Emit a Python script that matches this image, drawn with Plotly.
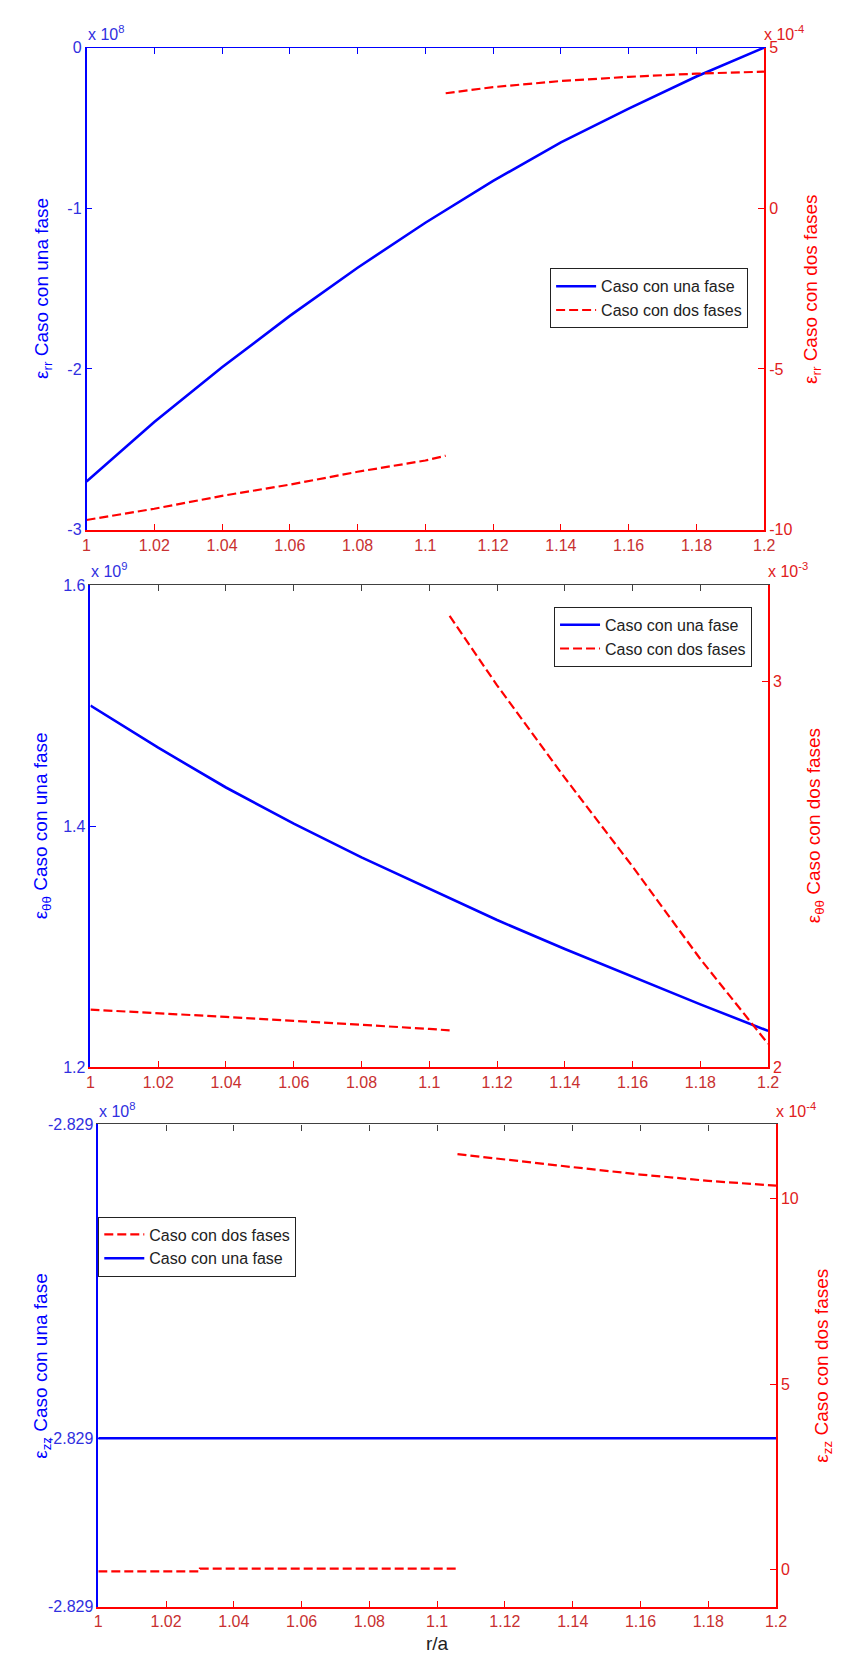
import plotly.graph_objects as go

# ---------------- data ----------------
x_one = [1.00, 1.02, 1.04, 1.06, 1.08, 1.10, 1.12, 1.14, 1.16, 1.18, 1.20]

# panel 1 : eps_rr
rr_one = [-2.70, -2.33, -1.99, -1.67, -1.37, -1.09, -0.83, -0.59, -0.38, -0.18, 0.00]  # x1e8
rr_two_x = [1.00, 1.02, 1.04, 1.06, 1.08, 1.10, 1.106, None, 1.106, 1.12, 1.14, 1.16, 1.18, 1.20]
rr_two = [-9.70, -9.35, -8.95, -8.60, -8.20, -7.85, -7.70, None, 3.58, 3.77, 3.96, 4.09, 4.19, 4.25]  # x1e-4

# panel 2 : eps_thetatheta
tt_one = [1.500, 1.465, 1.432, 1.402, 1.374, 1.348, 1.322, 1.298, 1.275, 1.252, 1.230]  # x1e9
tt_two_x = [1.00, 1.02, 1.04, 1.06, 1.08, 1.10, 1.106, None, 1.106, 1.12, 1.14, 1.16, 1.18, 1.20]
tt_two = [2.149, 2.140, 2.130, 2.120, 2.110, 2.099, 2.095, None, 3.17, 2.99, 2.75, 2.52, 2.28, 2.06]  # x1e-3

# panel 3 : eps_zz
zz_one = [-2.829, -2.829, -2.829, -2.829, -2.829, -2.829, -2.829, -2.829, -2.829, -2.829, -2.829]  # x1e8
zz_two_x = [1.00, 1.03, 1.03, 1.06, 1.08, 1.106, None, 1.106, 1.12, 1.14, 1.16, 1.18, 1.20]
zz_two = [-0.05, -0.05, 0.02, 0.02, 0.02, 0.02, None, 11.20, 11.05, 10.85, 10.65, 10.48, 10.35]  # x1e-4

x_ticks = [1.00, 1.02, 1.04, 1.06, 1.08, 1.10, 1.12, 1.14, 1.16, 1.18, 1.20]
x_ticktext = ["1", "1.02", "1.04", "1.06", "1.08", "1.1", "1.12", "1.14", "1.16", "1.18", "1.2"]

# ---------------- layout helpers ----------------
W, H = 843, 1664
FONT = "Liberation Sans, Arial, Helvetica, sans-serif"
BLUE = "#0000ff"
RED = "#ff0000"
BLUE_TXT = "#3030e0"
RED_TXT = "#e02020"
XLBL = "#c83030"
TICK = 16


def px(v):
    return v / W


def py(v):
    return 1 - v / H


panels = [
    # (left, right, top, bottom)
    (84, 774, 40, 527),
    (88, 778, 583, 1070),
    (96, 786, 1128, 1615),
]

fig = go.Figure()

DASH = "9px,4px"
fig.add_trace(go.Scatter(x=x_one, y=rr_one, mode="lines", name="Caso con una fase",
                         line=dict(color=BLUE, width=2.6), xaxis="x", yaxis="y", legend="legend"))
fig.add_trace(go.Scatter(x=rr_two_x, y=rr_two, mode="lines", name="Caso con dos fases",
                         line=dict(color=RED, width=2.2, dash=DASH), xaxis="x", yaxis="y2",
                         legend="legend"))

fig.add_trace(go.Scatter(x=x_one, y=tt_one, mode="lines", name="Caso con una fase",
                         line=dict(color=BLUE, width=2.6), xaxis="x3", yaxis="y3", legend="legend2"))
fig.add_trace(go.Scatter(x=tt_two_x, y=tt_two, mode="lines", name="Caso con dos fases",
                         line=dict(color=RED, width=2.2, dash=DASH), xaxis="x3", yaxis="y4",
                         legend="legend2"))

fig.add_trace(go.Scatter(x=zz_two_x, y=zz_two, mode="lines", name="Caso con dos fases",
                         line=dict(color=RED, width=2.2, dash=DASH), xaxis="x5", yaxis="y6",
                         legend="legend3", legendrank=1))
fig.add_trace(go.Scatter(x=x_one, y=zz_one, mode="lines", name="Caso con una fase",
                         line=dict(color=BLUE, width=2.6), xaxis="x5", yaxis="y5", legend="legend3",
                         legendrank=2))

# empty traces so the top axes get drawn
for xa, ya in (("x2", "y"), ("x4", "y3"), ("x6", "y5")):
    fig.add_trace(go.Scatter(x=[], y=[], xaxis=xa, yaxis=ya, showlegend=False, hoverinfo="skip"))

layout = dict(
    width=W, height=H,
    margin=dict(l=0, r=0, t=0, b=0),
    paper_bgcolor="white", plot_bgcolor="white",
    font=dict(family=FONT, size=TICK, color="#222"),
    showlegend=True,
)

zz_lo = -2.829 - 0.349e-5
zz_hi = -2.829 + 0.651e-5

yspecs = [
    dict(lrange=[-3, 0], lticks=[-3, -2, -1, 0], ltext=["-3", "-2", "-1", "0"],
         rrange=[-10, 5], rticks=[-10, -5, 0, 5], rtext=["-10", "-5", "0", "5"], topcol=BLUE),
    dict(lrange=[1.2, 1.6], lticks=[1.2, 1.4, 1.6], ltext=["1.2", "1.4", "1.6"],
         rrange=[2, 3.25], rticks=[2, 3], rtext=["2", "3"], topcol="#404040"),
    dict(lrange=[zz_lo, zz_hi], lticks=[zz_lo, -2.829, zz_hi], ltext=["-2.829", "-2.829", "-2.829"],
         rrange=[-1, 12], rticks=[0, 5, 10], rtext=["0", "5", "10"], topcol="#404040"),
]

for i, ((l, r, t, b), ys) in enumerate(zip(panels, yspecs)):
    n = 2 * i + 1
    xb = "xaxis" if n == 1 else f"xaxis{n}"
    xt = f"xaxis{n + 1}"
    yl = "yaxis" if n == 1 else f"yaxis{n}"
    yr = f"yaxis{n + 1}"
    xref = "x" if n == 1 else f"x{n}"
    yref = "y" if n == 1 else f"y{n}"
    xdom = [px(l), px(r)]
    ydom = [py(b), py(t)]
    layout[xb] = dict(domain=xdom, anchor=yref, range=[1, 1.2], tickvals=x_ticks, ticktext=x_ticktext,
                      ticks="inside", ticklen=6, tickcolor=RED, showline=True, linecolor=RED,
                      linewidth=1.5, showgrid=False, zeroline=False,
                      tickfont=dict(family=FONT, size=TICK, color=XLBL))
    layout[xt] = dict(domain=xdom, anchor=yref, overlaying=xref, side="top", range=[1, 1.2],
                      tickvals=x_ticks, ticks="inside", ticklen=6, tickcolor=ys["topcol"],
                      showline=True, linecolor=ys["topcol"], linewidth=1.2, showgrid=False,
                      zeroline=False, showticklabels=False)
    layout[yl] = dict(domain=ydom, anchor=xref, range=ys["lrange"], tickvals=ys["lticks"],
                      ticktext=ys["ltext"], ticks="inside", ticklen=6, tickcolor=BLUE,
                      showline=True, linecolor=BLUE, linewidth=1.5, showgrid=False, zeroline=False,
                      tickfont=dict(family=FONT, size=TICK, color=BLUE_TXT))
    layout[yr] = dict(domain=ydom, anchor=xref, overlaying=yref, side="right", range=ys["rrange"],
                      tickvals=ys["rticks"], ticktext=ys["rtext"], ticks="inside", ticklen=6,
                      tickcolor=RED, showline=True, linecolor=RED, linewidth=1.5, showgrid=False,
                      zeroline=False, tickfont=dict(family=FONT, size=TICK, color=RED_TXT))

leg_common = dict(bgcolor="white", bordercolor="#222", borderwidth=1,
                  font=dict(family=FONT, size=16, color="#222"),
                  xanchor="left", yanchor="top", tracegroupgap=0, itemwidth=40)
layout["legend"] = dict(leg_common, x=px(556), y=py(263))
layout["legend2"] = dict(leg_common, x=px(560), y=py(605))
layout["legend3"] = dict(leg_common, x=px(96), y=py(1221), traceorder="normal")

fig.update_layout(**layout)

ann = []
exps = [("8", "-4"), ("9", "-3"), ("8", "-4")]
titles = [("rr", "rr"), ("θθ", "θθ"), ("zz", "zz")]
for (l, r, t, b), (el, er), (tl, tr) in zip(panels, exps, titles):
    ann.append(dict(x=px(l - 1), y=py(t - 3), xref="paper", yref="paper", xanchor="left",
                    yanchor="bottom", showarrow=False, text=f"x 10<sup>{el}</sup>",
                    font=dict(family=FONT, size=TICK, color=BLUE_TXT)))
    ann.append(dict(x=px(r - 2), y=py(t - 3), xref="paper", yref="paper", xanchor="left",
                    yanchor="bottom", showarrow=False, text=f"x 10<sup>{er}</sup>",
                    font=dict(family=FONT, size=TICK, color=RED_TXT)))
    ann.append(dict(x=px(39), y=py((t + b) / 2), xref="paper", yref="paper", xanchor="center",
                    yanchor="middle", showarrow=False, textangle=-90,
                    text=f"ε<sub>{tl}</sub> Caso con una fase",
                    font=dict(family=FONT, size=19, color=BLUE)))
    ann.append(dict(x=px(r + 48), y=py((t + b) / 2), xref="paper", yref="paper", xanchor="center",
                    yanchor="middle", showarrow=False, textangle=-90,
                    text=f"ε<sub>{tr}</sub> Caso con dos fases",
                    font=dict(family=FONT, size=19, color=RED)))
ann.append(dict(x=px(441), y=py(1652), xref="paper", yref="paper", xanchor="center",
                yanchor="middle", showarrow=False, text="r/a",
                font=dict(family=FONT, size=19, color="#222")))
fig.update_layout(annotations=ann)

fig.write_html("out.html")
